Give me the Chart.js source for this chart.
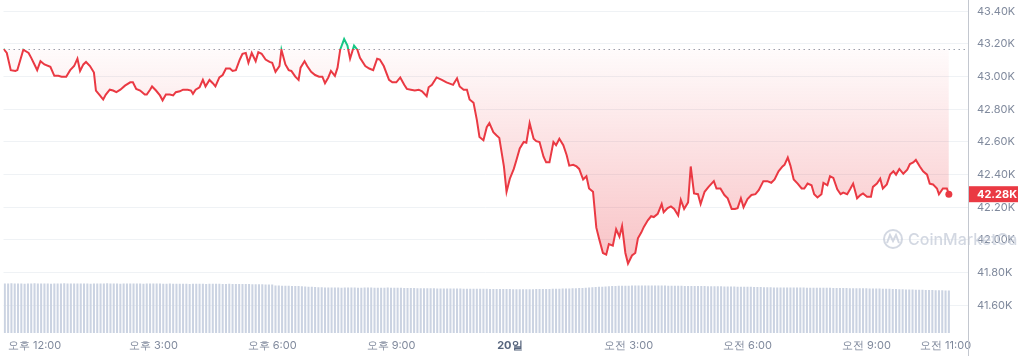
<!DOCTYPE html>
<html><head><meta charset="utf-8">
<script src="https://cdn.jsdelivr.net/npm/chart.js@4.4.1/dist/chart.umd.min.js"></script>
<style>html,body{margin:0;padding:0;background:#fff;overflow:hidden}#wrap{width:1018px;height:356px;position:relative}</style>
</head><body><div id="wrap"><canvas id="c" width="1018" height="356"></canvas></div>
<script>
// time in minutes from 19일 00:00
const priceTimes = [673,678,684,691,694,703,711,715,721,724,729,735,744,750,756,761,768,774,780,785,789,794,798,804,810,813,819,824,828,834,839,844,850,857,865,869,874,880,887,890,895,898,904,910,914,919,925,930,934,940,945,952,957,960,964,970,975,979,985,990,994,1000,1005,1010,1016,1020,1025,1031,1035,1040,1044,1049,1055,1059,1064,1070,1076,1080,1085,1091,1094,1100,1105,1109,1115,1120,1123,1129,1133,1139,1145,1151,1156,
1160,1165,1169,1175,1179,1183,1189,1194,1198,1204,1209,1213,1221,1227,1233,1239,1243,1249,1257,1262,1268,1274,1280,1284,1290,1296,1302,1307,1314,1317,1322,1329,1337,1344,1354,1360,1364,1370,1375,1379,1385,1390,1394,1400,1405,1409,1415,1420,1424,1431,1435,1440,1446,1450,1455,1461,1465,1470,1476,1480,1485,1491,1495,1500,1506,1510,1515,1521,1526,1530,1536,1541,1545,1551,1556,1560,1566,1571,1575,1581,1586,1590,1596,1601,1606,1610,1615,1619,1625,1630,1634,1639,1643,
1649,1654,1658,1664,1670,1673,1679,1684,1689,1695,1699,1704,1710,1714,1719,1725,1729,1735,1741,1749,1753,1759,1765,1770,1776,1781,1785,1790,1794,1800,1806,1812,1817,1824,1830,1836,1841,1847,1853,1856,1861,1865,1870,1876,1882,1886,1891,1897,1901,1906,1912,1915,1921,1925,1930,1936,1941,1945,1951,1956,1960,1966,1971,1975,1981,1987,1990,1996,2001,2005,2011,2016,2021,2025,2030,2036,2042,2046,2051,2055,2061,2066,2072,2076,2081,2087,2090,2096,2102,2105];
const prices = [43170,43145,43040,43035,43040,43165,43145,43115,43065,43040,43095,43075,43060,43005,43005,43000,43000,43040,43065,43110,43035,43075,43090,43065,43025,42915,42885,42860,42890,42920,42915,42905,42920,42945,42965,42965,42925,42915,42890,42890,42920,42940,42915,42885,42855,42890,42890,42885,42905,42910,42920,42920,42915,42895,42920,42935,42980,42940,42980,42960,42940,42995,43010,43050,43050,43035,43040,43105,43140,43145,43085,43145,43095,43150,43140,43105,43090,43085,43030,43065,43165,43075,43040,43035,43000,42980,43055,43095,43065,43030,43010,43000,43000,
42960,42995,43035,43005,43055,43165,43230,43190,43110,43190,43165,43115,43065,43050,43040,43110,43105,43065,42980,42965,42965,42995,42950,42925,42920,42915,42920,42910,42880,42935,42950,42995,42980,42965,42950,42990,42940,42920,42920,42860,42840,42735,42630,42610,42690,42715,42660,42640,42625,42450,42295,42375,42435,42490,42560,42600,42595,42715,42620,42605,42600,42510,42475,42475,42600,42580,42620,42580,42520,42455,42460,42450,42435,42370,42390,42315,42295,42075,42010,41920,41910,41975,41965,42065,42020,42085,41920,41855,41905,41920,42010,42045,42080,
42120,42145,42140,42160,42220,42170,42195,42205,42190,42150,42245,42190,42230,42450,42285,42280,42220,42295,42325,42360,42315,42315,42275,42255,42190,42190,42195,42255,42200,42250,42275,42280,42305,42360,42360,42350,42370,42420,42450,42460,42505,42455,42370,42345,42315,42315,42345,42335,42280,42260,42280,42350,42335,42390,42380,42310,42280,42290,42280,42315,42345,42255,42275,42285,42265,42265,42325,42345,42375,42315,42340,42400,42420,42400,42435,42405,42430,42465,42475,42490,42450,42420,42400,42345,42340,42315,42280,42315,42315,42280];
// 24h volume (billions USD), one bar per 5 minutes starting 11:15
const volumes = [
21.0,21.0,21.1,21.0,21.0,21.0,20.9,21.0,21.0,21.1,21.0,21.0,21.0,21.0,20.9,21.0,21.0,21.0,21.1,21.0,21.0,21.0,21.0,21.0,
21.0,21.0,20.9,21.0,21.0,21.0,21.0,21.1,21.0,21.0,21.0,20.9,21.0,21.0,21.0,21.0,21.0,21.0,20.9,21.0,21.0,21.0,21.0,21.0,
20.9,20.9,21.0,20.9,20.9,20.9,20.9,20.9,20.8,20.9,20.9,20.9,20.9,20.8,20.9,20.9,20.9,20.9,20.8,20.8,20.9,20.8,20.8,20.8,
20.8,20.8,20.8,20.7,20.7,20.7,20.7,20.6,20.6,20.6,20.2,20.2,20.1,20.1,20.1,20.0,20.0,20.0,19.9,19.8,19.7,19.6,19.5,19.4,
19.4,19.3,19.3,19.3,19.3,19.3,19.2,19.3,19.3,19.3,19.3,19.2,19.2,19.3,19.3,19.3,19.2,19.2,19.2,19.2,19.3,19.2,19.2,19.2,
19.2,19.1,19.1,19.1,19.1,19.0,19.0,19.0,19.0,19.0,19.0,18.9,18.9,18.9,18.9,18.9,18.9,18.9,18.9,18.8,18.8,18.8,18.8,18.8,
18.8,18.8,18.8,18.7,18.7,18.7,18.7,18.7,18.7,18.7,18.6,18.6,18.6,18.6,18.6,18.6,18.6,18.7,18.7,18.7,18.7,18.7,18.8,18.8,
18.8,18.9,18.9,18.9,19.0,19.0,19.1,19.1,19.2,19.3,19.4,19.5,19.6,19.7,19.8,19.9,20.0,20.0,20.1,20.1,20.1,20.1,20.2,20.2,
20.2,20.2,20.2,20.2,20.2,20.2,20.2,20.2,20.2,20.1,20.1,20.1,20.1,20.1,20.0,20.0,20.0,20.0,20.0,20.0,20.0,19.9,19.9,19.9,
19.9,19.9,19.8,19.8,19.8,19.8,19.7,19.7,19.7,19.6,19.6,19.5,19.5,19.5,19.4,19.4,19.4,19.3,19.3,19.3,19.3,19.3,19.3,19.3,
19.3,19.3,19.3,19.2,19.2,19.2,19.2,19.2,19.2,19.2,19.2,19.1,19.1,19.1,19.1,19.1,19.0,19.0,19.0,19.0,19.0,19.0,18.9,18.9,
18.9,18.9,18.8,18.8,18.8,18.7,18.7,18.6,18.6,18.5,18.5,18.5,18.4,18.4,18.4,18.3,18.3,18.3,18.2,18.2,18.2,18.1,18.1];
const volumeStartTime = 675, volumeStepMinutes = 5;
const openPrice = 43170;
const yTickValues = [41600,41800,42000,42200,42400,42600,42800,43000,43200,43400];
const xTickValues = [720,900,1080,1260,1440,1620,1800,1980,2100];
const xTickLabels = ['오후 12:00','오후 3:00','오후 6:00','오후 9:00','20일','오전 3:00','오전 6:00','오전 9:00','오전 11:00'];
const lastPriceLabel = '42.28K';

const RED = '#ea3943', GREEN = '#16c784';
const FONT = 'Inter, "Noto Sans", sans-serif';

const lineData = priceTimes.map((t, i) => ({x: t, y: prices[i]}));
const volData = volumes.map((v, i) => ({x: volumeStartTime + i * volumeStepMinutes, y: v}));

function splitGradient(chart, above, below) {
  const {ctx, chartArea, scales} = chart;
  if (!chartArea) return below;
  const yb = scales.y.getPixelForValue(openPrice);
  const f = Math.min(Math.max((yb - chartArea.top) / (chartArea.bottom - chartArea.top), 0), 1);
  const g = ctx.createLinearGradient(0, chartArea.top, 0, chartArea.bottom);
  g.addColorStop(0, above); g.addColorStop(f, above); g.addColorStop(f, below); g.addColorStop(1, below);
  return g;
}
function fillGradient(chart) {
  const {ctx, chartArea, scales} = chart;
  if (!chartArea) return 'rgba(234,57,67,0.1)';
  const yb = scales.y.getPixelForValue(openPrice);
  const h = chartArea.bottom - chartArea.top;
  const f = (yb - chartArea.top) / h;
  const g = ctx.createLinearGradient(0, chartArea.top, 0, chartArea.bottom);
  g.addColorStop(0, 'rgba(22,199,132,0.25)');
  g.addColorStop(f, 'rgba(22,199,132,0.03)');
  g.addColorStop(f, 'rgba(234,57,67,0.02)');
  g.addColorStop(1, 'rgba(234,57,67,0.40)');
  return g;
}

const overlay = {
  id: 'overlay',
  beforeDatasetsDraw(chart) {
    const {ctx, chartArea, scales} = chart;
    const yb = Math.round(scales.y.getPixelForValue(openPrice)) + 0.5;
    ctx.save();
    ctx.strokeStyle = '#9aa1ad';
    ctx.lineWidth = 1;
    ctx.setLineDash([1.5, 3.5]);
    ctx.beginPath(); ctx.moveTo(chartArea.left, yb); ctx.lineTo(chartArea.right, yb); ctx.stroke();
    ctx.restore();
  },
  afterDraw(chart) {
    const {ctx, chartArea, scales} = chart;
    ctx.save();
    // watermark
    ctx.globalAlpha = 0.75;
    ctx.strokeStyle = '#c4cbd8';
    ctx.lineWidth = 2;
    ctx.beginPath(); ctx.arc(893, 239, 9, 0, Math.PI * 2); ctx.stroke();
    ctx.beginPath();
    ctx.moveTo(887, 243); ctx.lineTo(890, 235); ctx.lineTo(893, 241); ctx.lineTo(896, 235); ctx.lineTo(899, 243);
    ctx.stroke();
    ctx.fillStyle = '#c4cbd8';
    ctx.font = '500 16px ' + FONT;
    ctx.textBaseline = 'middle';
    ctx.fillText('CoinMarketCap', 908, 240);
    ctx.globalAlpha = 1;
    // axis line
    ctx.strokeStyle = '#c3c7cf';
    ctx.lineWidth = 1;
    ctx.beginPath(); ctx.moveTo(chartArea.right + 0.5, 0); ctx.lineTo(chartArea.right + 0.5, chart.height); ctx.stroke();
    // last price label
    const last = prices[prices.length - 1];
    const yp = scales.y.getPixelForValue(last);
    ctx.fillStyle = RED;
    ctx.fillRect(chartArea.right + 1, yp - 8, chart.width - chartArea.right - 1, 16);
    ctx.fillStyle = '#ffffff';
    ctx.font = 'bold 11px ' + FONT;
    ctx.textBaseline = 'middle';
    ctx.textAlign = 'left';
    ctx.fillText(lastPriceLabel, chartArea.right + 9, yp + 0.5);
    ctx.restore();
  }
};

new Chart(document.getElementById('c'), {
  data: {
    datasets: [
      {
        type: 'line', order: 1, data: lineData, yAxisID: 'y', xAxisID: 'x',
        borderWidth: 2, tension: 0,
        borderColor: ctx => splitGradient(ctx.chart, GREEN, RED),
        backgroundColor: ctx => fillGradient(ctx.chart),
        fill: {target: {value: openPrice}},
        pointRadius: ctx => ctx.dataIndex === prices.length - 1 ? 3.5 : 0,
        pointBackgroundColor: RED, pointBorderWidth: 0, pointHoverRadius: 0
      },
      {
        type: 'bar', order: 2, data: volData, yAxisID: 'yv', xAxisID: 'x',
        backgroundColor: '#cbd3e2', borderWidth: 0,
        barPercentage: 0.62, categoryPercentage: 1
      }
    ]
  },
  options: {
    responsive: false, animation: false, devicePixelRatio: 1,
    layout: {padding: 0},
    plugins: {legend: {display: false}, tooltip: {enabled: false}},
    scales: {
      x: {
        type: 'linear', min: 673, max: 2134, offset: false,
        afterBuildTicks: s => { s.ticks = xTickValues.map(v => ({value: v})); },
        afterFit: s => { s.height = 23; s.paddingLeft = 0; s.paddingRight = 0; },
        grid: {display: false, drawTicks: false}, border: {display: false},
        ticks: {
          autoSkip: false, maxRotation: 0, padding: 6,
          callback: (v, i) => xTickLabels[i],
          color: c => c.tick && c.tick.value === 1440 ? '#58667e' : '#808a9d',
          font: c => (c.tick && c.tick.value === 1440) ? {family: FONT, size: 11, weight: 'bold'} : {family: FONT, size: 11}
        }
      },
      y: {
        position: 'right', min: 41430, max: 43448,
        afterBuildTicks: s => { s.ticks = yTickValues.map(v => ({value: v})); },
        afterFit: s => { s.width = 50; s.paddingTop = 0; s.paddingBottom = 0; },
        grid: {color: '#eff2f5', drawTicks: false}, border: {display: false},
        ticks: {padding: 9, color: '#808a9d', font: {family: FONT, size: 11},
          callback: v => (v / 1000).toFixed(2) + 'K'}
      },
      yv: {display: false, min: 0, max: 140}
    }
  },
  plugins: [overlay]
});
</script></body></html>
